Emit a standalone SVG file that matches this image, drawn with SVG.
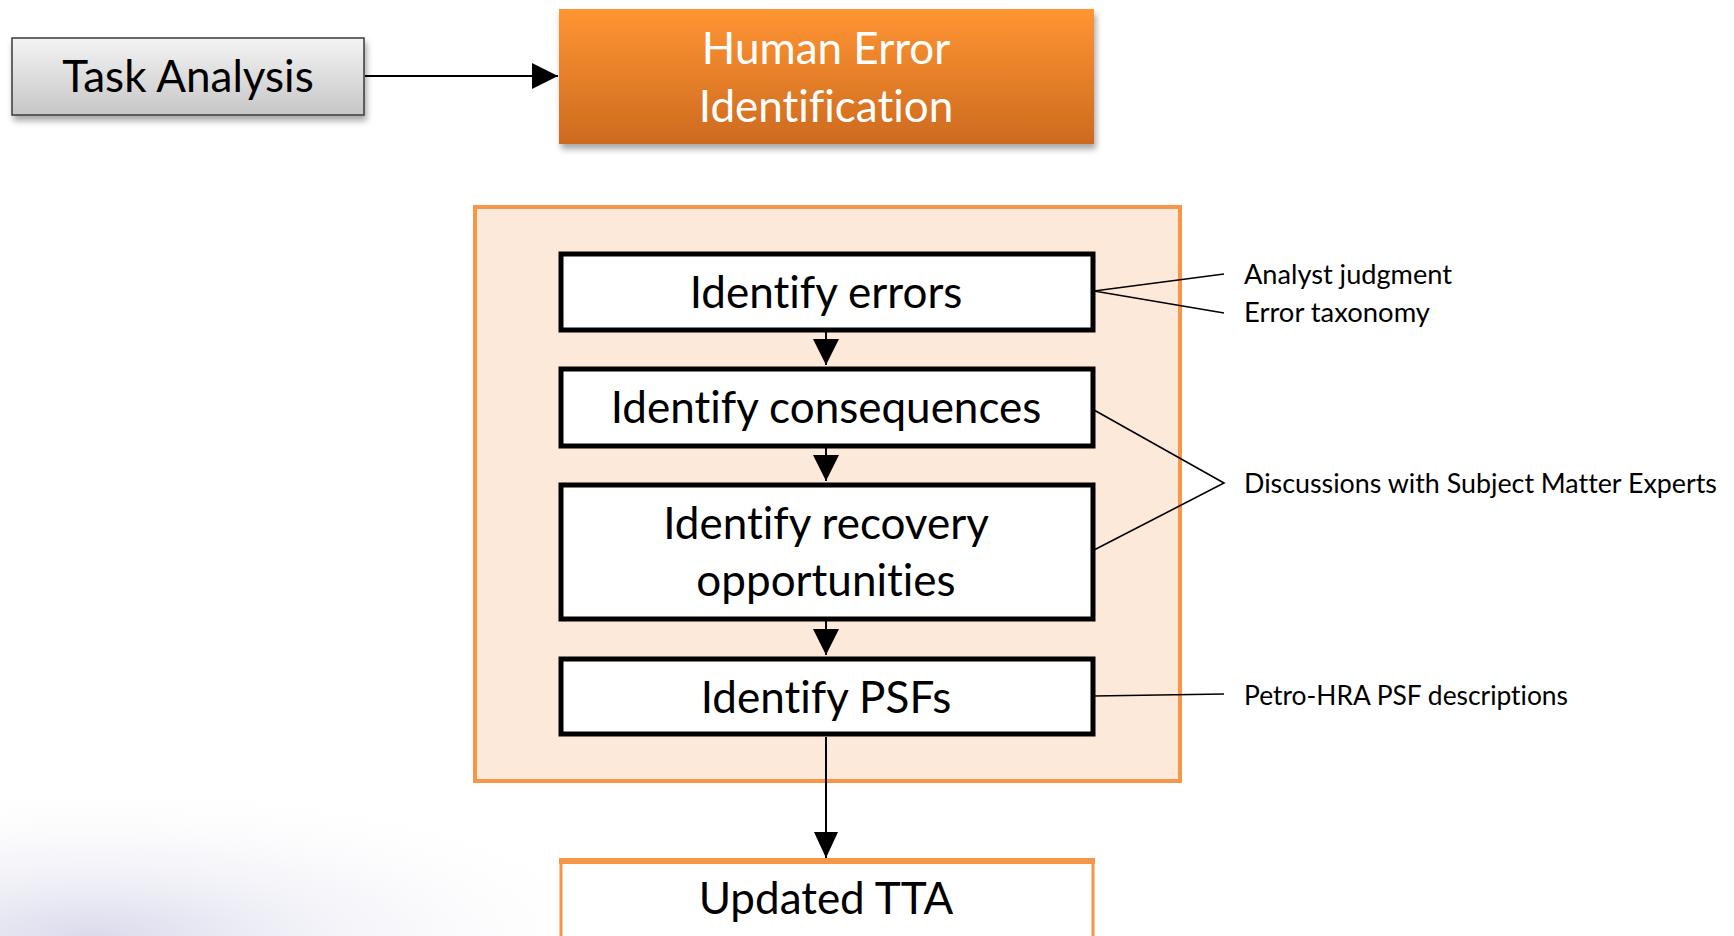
<svg xmlns="http://www.w3.org/2000/svg" width="1734" height="936" viewBox="0 0 1734 936">
  <style>
    text { font-variant-ligatures: none; font-feature-settings: "liga" 0; }
    .main { font-family: Lato, "Open Sans", "Liberation Sans", sans-serif; font-size: 44px; fill: #000; text-anchor: middle; }
    .white { fill: #fff; }
    .note { font-family: Lato, "Open Sans", "Liberation Sans", sans-serif; font-size: 26px; fill: #000; }
    .step { fill: #fff; stroke: #000; stroke-width: 5; }
    .edge { stroke: #000; stroke-width: 2; fill: none; }
    .thin { stroke: #000; stroke-width: 1.6; fill: none; }
  </style>
  <defs>
    <linearGradient id="grayGrad" x1="0" y1="0" x2="0" y2="1">
      <stop offset="0" stop-color="#f4f4f4"/>
      <stop offset="1" stop-color="#c6c6c6"/>
    </linearGradient>
    <linearGradient id="orangeGrad" x1="0" y1="0" x2="0" y2="1">
      <stop offset="0" stop-color="#ff9533"/>
      <stop offset="1" stop-color="#cd6a1f"/>
    </linearGradient>
    <radialGradient id="haze" cx="0.15" cy="1" r="0.9">
      <stop offset="0" stop-color="#d6d6ea" stop-opacity="0.9"/>
      <stop offset="1" stop-color="#ffffff" stop-opacity="0"/>
    </radialGradient>
    <filter id="shadow" x="-10%" y="-10%" width="120%" height="140%">
      <feDropShadow dx="2" dy="5" stdDeviation="3" flood-color="#000" flood-opacity="0.35"/>
    </filter>
    <marker id="arrowBig" viewBox="0 0 10 10" refX="10" refY="5" markerWidth="26" markerHeight="26" markerUnits="userSpaceOnUse" orient="auto">
      <path d="M0,0 L10,5 L0,10 z" fill="#000"/>
    </marker>
    <marker id="arrowSlim" viewBox="0 0 10 10" refX="10" refY="5" markerWidth="26" markerHeight="24" markerUnits="userSpaceOnUse" orient="auto" preserveAspectRatio="none">
      <path d="M0,0 L10,5 L0,10 z" fill="#000"/>
    </marker>
  </defs>

  <rect width="1734" height="936" fill="#fff"/>
  <!-- soft background tint in the lower-left corner -->
  <rect x="0" y="760" width="620" height="176" fill="url(#haze)"/>

  <!-- container panel -->
  <g id="panel">
    <rect x="475" y="207" width="705" height="574" fill="#fde9d9" stroke="#f79646" stroke-width="4"/>
  </g>

  <g id="connectors">
    <line class="edge" x1="365" y1="76" x2="558" y2="76" marker-end="url(#arrowBig)"/>
    <line class="edge" x1="826" y1="332" x2="826" y2="365" marker-end="url(#arrowBig)"/>
    <line class="edge" x1="826" y1="448" x2="826" y2="481" marker-end="url(#arrowBig)"/>
    <line class="edge" x1="826" y1="621" x2="826" y2="655" marker-end="url(#arrowBig)"/>
    <line class="edge" x1="826" y1="737" x2="826" y2="858" marker-end="url(#arrowSlim)"/>
    <!-- source notes -->
    <polyline class="thin" points="1224,274 1094,291 1224,313"/>
    <polyline class="thin" points="1094,410 1224,483 1094,550"/>
    <polyline class="thin" points="1094,696 1224,694"/>
  </g>

  <g id="task-analysis">
    <rect x="12" y="38" width="352" height="77" fill="url(#grayGrad)" stroke="#3a3a3a" stroke-width="1.5" filter="url(#shadow)"/>
    <text class="main" x="188" y="92">Task Analysis</text>
  </g>

  <g id="human-error-identification">
    <rect x="559" y="9" width="535" height="135" fill="url(#orangeGrad)" filter="url(#shadow)"/>
    <text class="main white" x="826" y="64">Human Error</text>
    <text class="main white" x="826" y="122">Identification</text>
  </g>

  <g id="identify-errors">
    <rect class="step" x="561" y="254" width="532" height="76"/>
    <text class="main" x="826" y="308">Identify errors</text>
  </g>

  <g id="identify-consequences">
    <rect class="step" x="561" y="369" width="532" height="77"/>
    <text class="main" x="826" y="423">Identify consequences</text>
  </g>

  <g id="identify-recovery">
    <rect class="step" x="561" y="485" width="532" height="134"/>
    <text class="main" x="826" y="539">Identify recovery</text>
    <text class="main" x="826" y="596">opportunities</text>
  </g>

  <g id="identify-psfs">
    <rect class="step" x="561" y="659" width="532" height="75"/>
    <text class="main" x="826" y="713">Identify PSFs</text>
  </g>

  <g id="updated-tta">
    <rect x="561" y="861" width="532" height="80" fill="#fff" stroke="#f79646" stroke-width="3"/>
    <line x1="559" y1="861" x2="1095" y2="861" stroke="#f79646" stroke-width="6"/>
    <text class="main" x="826" y="914">Updated TTA</text>
  </g>

  <g id="notes">
    <text class="note" x="1244" y="284" textLength="208" lengthAdjust="spacingAndGlyphs">Analyst judgment</text>
    <text class="note" x="1244" y="322" textLength="186" lengthAdjust="spacingAndGlyphs">Error taxonomy</text>
    <text class="note" x="1244" y="493" textLength="473" lengthAdjust="spacingAndGlyphs">Discussions with Subject Matter Experts</text>
    <text class="note" x="1244" y="705" textLength="324" lengthAdjust="spacingAndGlyphs">Petro-HRA PSF descriptions</text>
  </g>
</svg>
